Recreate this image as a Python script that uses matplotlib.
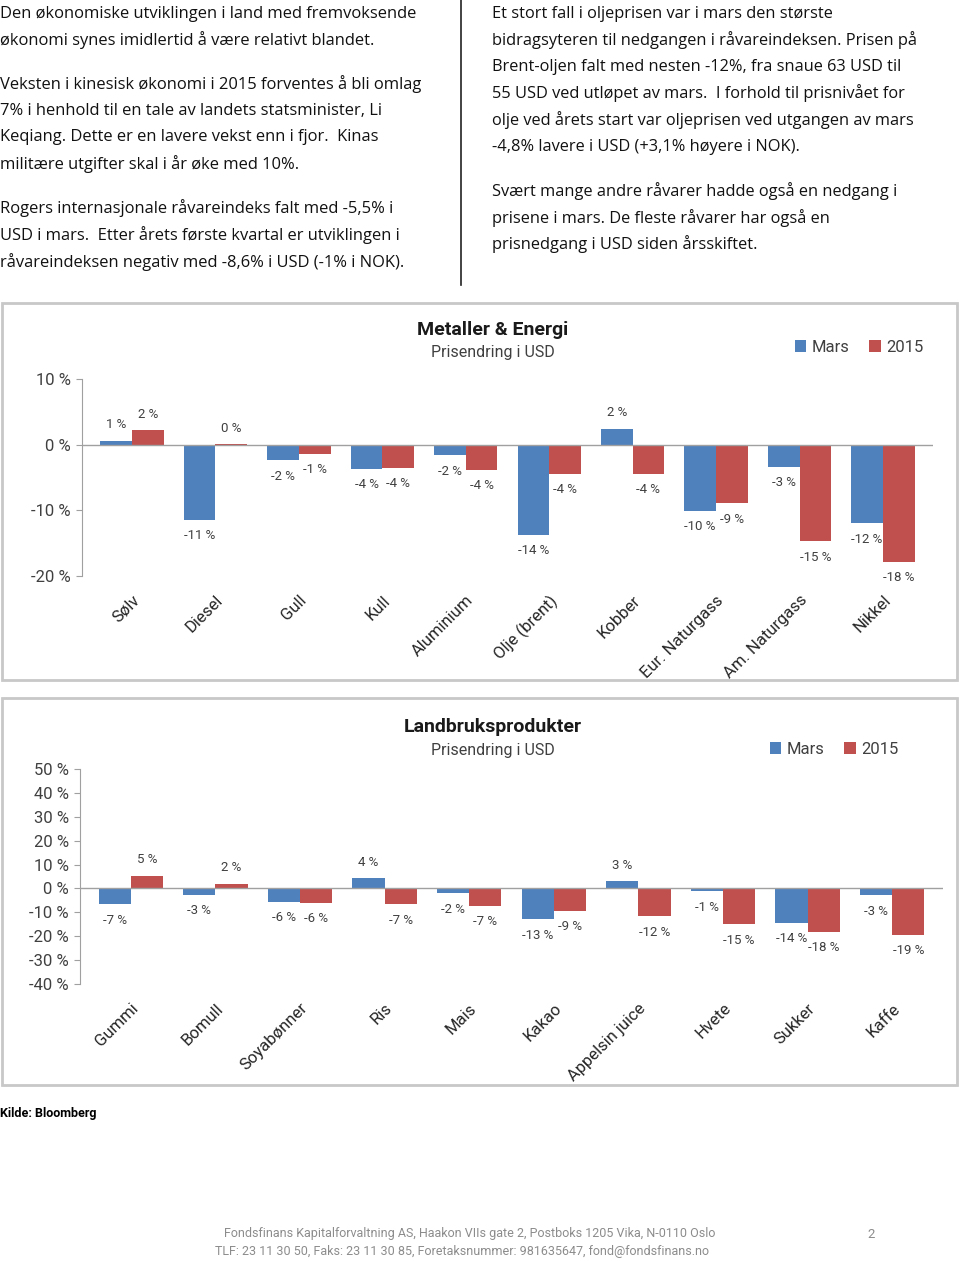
import matplotlib
matplotlib.use('Agg')
import matplotlib.pyplot as plt
import numpy as np
from matplotlib import font_manager
from matplotlib.patches import Rectangle
from matplotlib.lines import Line2D

# data
kat_metall = ['Sølv', 'Diesel', 'Gull', 'Kull', 'Aluminium', 'Olje (brent)', 'Kobber',
              'Eur. Naturgass', 'Am. Naturgass', 'Nikkel']
mars_metall = [0.6, -11.4, -2.4, -3.7, -1.6, -13.7, 2.4, -10.1, -3.4, -12.0]
aar_metall = [2.2, 0.1, -1.4, -3.5, -3.8, -4.4, -4.4, -8.9, -14.7, -17.8]

kat_landbruk = ['Gummi', 'Bomull', 'Soyabønner', 'Ris', 'Mais', 'Kakao', 'Appelsin juice',
                'Hvete', 'Sukker', 'Kaffe']
mars_landbruk = [-6.6, -2.6, -5.6, 4.2, -2.1, -12.9, 3.1, -1.1, -14.3, -2.8]
aar_landbruk = [5.4, 1.9, -6.1, -6.6, -7.3, -9.4, -11.6, -15.0, -18.2, -19.3]

tekst_venstre = [
    'Den økonomiske utviklingen i land med fremvoksende',
    'økonomi synes imidlertid å være relativt blandet.',
    'Veksten i kinesisk økonomi i 2015 forventes å bli omlag',
    '7% i henhold til en tale av landets statsminister, Li',
    'Keqiang. Dette er en lavere vekst enn i fjor.  Kinas',
    'militære utgifter skal i år øke med 10%.',
    'Rogers internasjonale råvareindeks falt med -5,5% i',
    'USD i mars.  Etter årets første kvartal er utviklingen i',
    'råvareindeksen negativ med -8,6% i USD (-1% i NOK).',
]
y_venstre = [14, 40, 84, 111, 137, 164, 208, 235, 262]

tekst_hoyre = [
    'Et stort fall i oljeprisen var i mars den største',
    'bidragsyteren til nedgangen i råvareindeksen. Prisen på',
    'Brent-oljen falt med nesten -12%, fra snaue 63 USD til',
    '55 USD ved utløpet av mars.  I forhold til prisnivået for',
    'olje ved årets start var oljeprisen ved utgangen av mars',
    '-4,8% lavere i USD (+3,1% høyere i NOK).',
    'Svært mange andre råvarer hadde også en nedgang i',
    'prisene i mars. De fleste råvarer har også en',
    'prisnedgang i USD siden årsskiftet.',
]
y_hoyre = [14, 40, 67, 93, 120, 147, 191, 218, 244]

BLA = '#4F81BD'
ROD = '#C0504D'
W, H = 960, 1261

names = {f.name for f in font_manager.fontManager.ttflist}
NARROW = 'Liberation Sans Narrow' if 'Liberation Sans Narrow' in names else 'Roboto'
BODY = 'Open Sans' if 'Open Sans' in names else 'DejaVu Sans'

fig = plt.figure(figsize=(W / 100, H / 100), dpi=100)


def fy(y):
    return 1 - y / H


for t, y in zip(tekst_venstre, y_venstre):
    fig.text(0 / W, fy(y), t, fontsize=11.85, family=BODY, va='center', ha='left', color='#111111')
for t, y in zip(tekst_hoyre, y_hoyre):
    fig.text(492 / W, fy(y), t, fontsize=11.8, family=BODY, va='center', ha='left', color='#111111')
fig.add_artist(Line2D([461 / W, 461 / W], [fy(0), fy(285)], color='#222222', lw=1.2))

# chart boxes
for y0, y1 in [(303, 680), (698, 1085)]:
    fig.add_artist(Rectangle((2 / W, fy(y1)), 955 / W, (y1 - y0) / H, transform=fig.transFigure,
                             fill=False, edgecolor='#c8c8c8', lw=2))


def tegn(ax, kat, mars, aar, ticks, ylim, tittel, ty, leg_xy):
    x = np.arange(len(kat))
    bw = 0.38
    ax.bar(x - bw / 2, mars, bw, color=BLA, label='Mars')
    ax.bar(x + bw / 2, aar, bw, color=ROD, label='2015')
    for xs, vals in [(x - bw / 2, mars), (x + bw / 2, aar)]:
        for xi, v in zip(xs, vals):
            off = 11.5 if v >= 0 else -11.5
            ax.annotate('%d %%' % round(v), (xi, v), xytext=(0, off), textcoords='offset points',
                        ha='center', va='center', fontsize=9.5, family=NARROW, color='#404040')
    ax.set_xlim(-0.6, len(kat) - 0.4)
    ax.set_ylim(*ylim)
    ax.set_yticks(ticks)
    ax.set_yticklabels(['%d %%' % t for t in ticks], fontsize=12, family=NARROW, color='#404040')
    ax.axhline(0, color='#a0a0a0', lw=1)
    for s in ['top', 'right', 'bottom']:
        ax.spines[s].set_visible(False)
    ax.spines['left'].set_color('#a0a0a0')
    ax.tick_params(axis='y', length=4, color='#a0a0a0', pad=4)
    ax.set_xticks(x)
    ax.set_xticklabels(kat, rotation=45, ha='right', rotation_mode='anchor', fontsize=12,
                       family=NARROW, color='#262626')
    ax.tick_params(axis='x', length=0, pad=12)
    fig.text(493 / W, fy(ty), tittel, fontsize=14, fontweight='bold', family=NARROW,
             ha='center', va='center', color='#1a1a1a')
    fig.text(493 / W, fy(ty + 23), 'Prisendring i USD', fontsize=11.5, family=NARROW,
             ha='center', va='center', color='#404040')
    ax.legend(loc='center', bbox_to_anchor=(leg_xy[0] / W, fy(leg_xy[1])), bbox_transform=fig.transFigure,
              ncol=2, frameon=False, handlelength=0.7, handleheight=0.7, columnspacing=1.2,
              handletextpad=0.3, prop={'family': NARROW, 'size': 12}, labelcolor='#404040')


ax1 = fig.add_axes([82 / W, fy(576), (933 - 82) / W, (576 - 379) / H])
tegn(ax1, kat_metall, mars_metall, aar_metall, [10, 0, -10, -20], (-20, 10),
     'Metaller & Energi', 330, (859, 347))

ax2 = fig.add_axes([80 / W, fy(984), (943 - 80) / W, (984 - 769) / H])
tegn(ax2, kat_landbruk, mars_landbruk, aar_landbruk, list(range(50, -50, -10)), (-40, 50),
     'Landbruksprodukter', 727, (834, 749))

fig.text(0, fy(1113), 'Kilde: Bloomberg', fontsize=9, fontweight='bold', family=NARROW,
         ha='left', va='center', color='#000000')
fig.text(470 / W, fy(1234), 'Fondsfinans Kapitalforvaltning AS, Haakon VIIs gate 2, Postboks 1205 Vika, N-0110 Oslo',
         fontsize=9.0, family=NARROW, ha='center', va='center', color='#8c8c8c')
fig.text(462 / W, fy(1251), 'TLF: 23 11 30 50, Faks: 23 11 30 85, Foretaksnummer: 981635647, fond@fondsfinans.no',
         fontsize=9.0, family=NARROW, ha='center', va='center', color='#8c8c8c')
fig.text(871 / W, fy(1234), '2', fontsize=9.5, family=NARROW, ha='center', va='center', color='#8c8c8c')

fig.savefig('out.png', dpi=100)
